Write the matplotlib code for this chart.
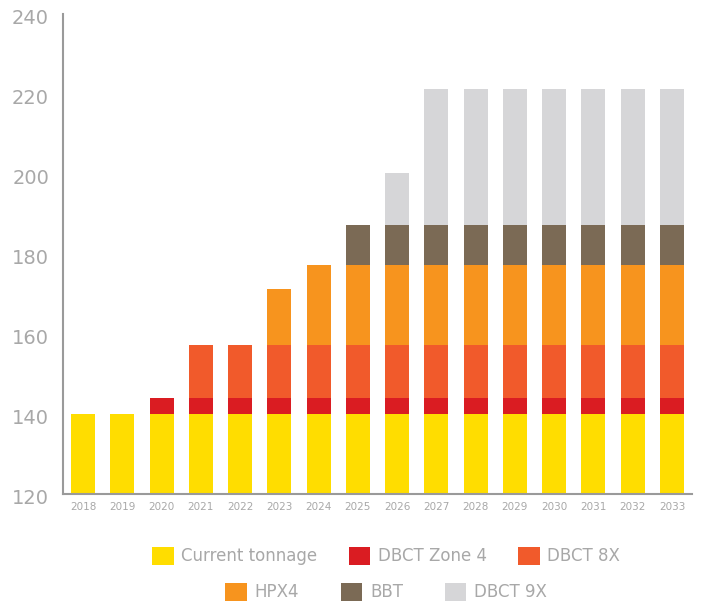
import numpy as np
import matplotlib.pyplot as plt
import matplotlib.transforms as mtransforms

years = [str(y) for y in range(2018, 2034)]
current = [140, 140, 140, 140, 140, 140, 140, 140, 140, 140, 140, 140, 140, 140, 140, 140]
zone4 = [0, 0, 4, 4, 4, 4, 4, 4, 4, 4, 4, 4, 4, 4, 4, 4]
dbct8x = [0, 0, 0, 13.3, 13.3, 13.3, 13.3, 13.3, 13.3, 13.3, 13.3, 13.3, 13.3, 13.3, 13.3, 13.3]
hpx4 = [0, 0, 0, 0, 0, 14, 20, 20, 20, 20, 20, 20, 20, 20, 20, 20]
bbt = [0, 0, 0, 0, 0, 0, 0, 10, 10, 10, 10, 10, 10, 10, 10, 10]
dbct9x = [0, 0, 0, 0, 0, 0, 0, 0, 13, 34, 34, 34, 34, 34, 34, 34]

names = ['Current tonnage', 'DBCT Zone 4', 'DBCT 8X', 'HPX4', 'BBT', 'DBCT 9X']
colors = ['#FFDD00', '#DA1C22', '#F15A2B', '#F7941E', '#7B6A55', '#D6D6D8']
series = [current, zone4, dbct8x, hpx4, bbt, dbct9x]

plt.rcParams['font.family'] = ['DejaVu Sans']
grey = '#a8a8a8'

fig = plt.figure(figsize=(7.05, 6.08), dpi=100)
ax = fig.add_axes([63/705, 114/608, 629/705, 480/608])

x = np.arange(len(years))
# first series starts from axis bottom (120)
base = np.full(len(years), 120.0)
handles = []
for i, (s, name, c) in enumerate(zip(series, names, colors)):
    s = np.array(s, dtype=float)
    if i == 0:
        h = ax.bar(x, s - 120, bottom=base, width=0.61, color=c, label=name)
        base = s.copy()
    else:
        h = ax.bar(x, s, bottom=base, width=0.61, color=c, label=name)
        base = base + s
    handles.append(h)

ax.set_ylim(120, 240)
ax.set_xlim(-0.51, len(years) - 0.49)
ax.set_yticks(np.arange(120, 241, 20))
ax.set_xticks(x)
ax.set_xticklabels(years)
ax.tick_params(axis='y', length=0, pad=10, labelsize=14, labelcolor=grey)
ax.tick_params(axis='x', length=0, pad=6, labelsize=7.5, labelcolor=grey)
off = mtransforms.ScaledTranslation(0, -3/100, fig.dpi_scale_trans)
for lab in ax.get_yticklabels():
    lab.set_transform(lab.get_transform() + off)

for sp in ['top', 'right']:
    ax.spines[sp].set_visible(False)
for sp in ['left', 'bottom']:
    ax.spines[sp].set_color('#9a9a9a')
    ax.spines[sp].set_linewidth(1.5)

leg_kw = dict(ncol=3, frameon=False, fontsize=12, handlelength=1.3,
              handleheight=1.3, handletextpad=0.45, labelcolor=grey)
l1 = fig.legend(handles[:3], names[:3], loc='center', bbox_to_anchor=(386/705, 1 - 556/608),
                columnspacing=1.87, **leg_kw)
l2 = fig.legend(handles[3:], names[3:], loc='center', bbox_to_anchor=(386/705, 1 - 592/608),
                columnspacing=2.5, **leg_kw)

fig.savefig('out.png', dpi=100)
